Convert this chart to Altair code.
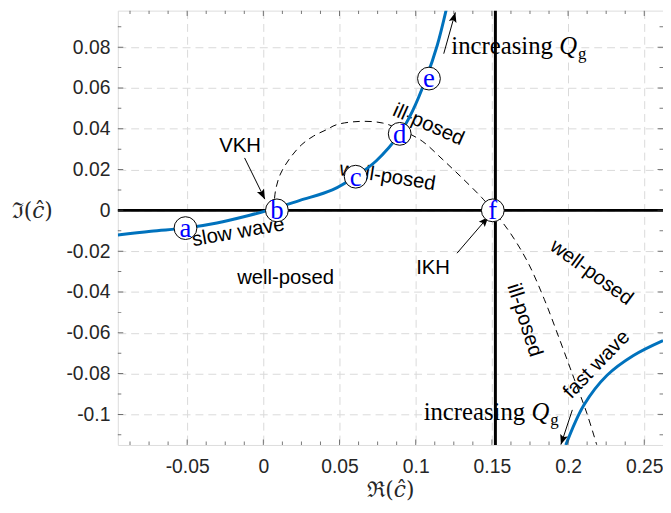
import math
import altair as alt
import pandas as pd

# ---------------- values ----------------
X_DOMAIN = [-0.0955, 0.2623]
Y_DOMAIN = [-0.115, 0.0979]
W, H = 551, 439

x_major = [-0.05, 0, 0.05, 0.1, 0.15, 0.2, 0.25]
x_minor = [-0.0875, -0.075, -0.0625, -0.0375, -0.025, -0.0125,
           0.0125, 0.025, 0.0375, 0.0625, 0.075, 0.0875,
           0.1125, 0.125, 0.1375, 0.1625, 0.175, 0.1875,
           0.2125, 0.225, 0.2375]
y_major = [-0.1, -0.08, -0.06, -0.04, -0.02, 0, 0.02, 0.04, 0.06, 0.08]
y_minor = [-0.11, -0.09, -0.07, -0.05, -0.03, -0.01, 0.01, 0.03, 0.05, 0.07, 0.09]

# slow wave (blue)
slow_x = [-0.0955, -0.0738, -0.0511, -0.0305, -0.0089, 0.003, 0.0236, 0.0453,
          0.0606, 0.074, 0.0892, 0.0978, 0.1068, 0.1141, 0.1206]
slow_y = [-0.0121, -0.0102, -0.0087, -0.0062, -0.0024, 0.0, 0.0048, 0.0100,
          0.0167, 0.0242, 0.0372, 0.0485, 0.0646, 0.0808, 0.1002]
# fast wave (blue)
fast_x = [0.1985, 0.2104, 0.2256, 0.2429, 0.2623]
fast_y = [-0.115, -0.0954, -0.0808, -0.0711, -0.0638]
# dashed boundary
dash_x = [0.0068, 0.0080, 0.0112, 0.0177, 0.0253, 0.0329, 0.0416, 0.0481, 0.0632,
          0.0784, 0.0909, 0.1043, 0.1173, 0.1303, 0.1433, 0.1506, 0.1617, 0.1734,
          0.1844, 0.1948, 0.2039, 0.2123, 0.2188]
dash_y = [0.0, 0.0097, 0.0178, 0.0258, 0.0323, 0.0364, 0.0396, 0.0420, 0.0436,
          0.0428, 0.0393, 0.0339, 0.0252, 0.0160, 0.0063, 0.0, -0.0107, -0.0252,
          -0.0436, -0.0640, -0.0824, -0.0994, -0.1149]

# thick black lines
h_line_y = [0.0]
v_line_x = [0.1523]

# labelled markers
mk_label = ["a", "b", "c", "d", "e", "f"]
mk_x = [-0.0511, 0.0089, 0.0606, 0.0895, 0.1087, 0.1506]
mk_y = [-0.0087, 0.0, 0.0165, 0.0375, 0.0646, 0.0]

# region annotations
ann_text = ["VKH", "slow wave", "well-posed", "well-posed", "ill-posed", "IKH",
            "well-posed", "ill-posed", "fast wave"]
ann_x = [-0.0153, -0.0164, 0.0146, 0.0815, 0.1084, 0.1114, 0.2153, 0.1714, 0.2188]
ann_y = [0.0315, -0.0107, -0.033, 0.0165, 0.0419, -0.0284, -0.0305, -0.0538, -0.0756]
ann_angle = [0, 350, 0, 9, 24, 0, 36, 72, 314]

# arrows (start -> tip)
arr_x1 = [-0.0123, 0.1271, 0.1184, 0.2028]
arr_y1 = [0.0257, -0.0210, 0.0768, -0.0978]
arr_x2 = [0.0010, 0.1476, 0.1260, 0.1953]
arr_y2 = [0.0055, -0.0032, 0.0970, -0.1148]

# "increasing Q_g" labels (left edge, baseline)
qg_x = [0.1234, 0.1052]
qg_y = [0.0766, -0.1028]

# ---------------- build ----------------
xs = alt.Scale(domain=X_DOMAIN, nice=False, zero=False)
ys = alt.Scale(domain=Y_DOMAIN, nice=False, zero=False)
TICK_COLOR = "#262626"
SANS = "Liberation Sans"
SERIF = "Liberation Serif"
LABEL_EXPR = "datum.value < 0 ? '-' + format(-datum.value, '~g') : format(datum.value, '~g')"

x_axis = alt.Axis(values=x_major, grid=True, gridDash=[8, 5], gridColor="#dadada",
                  ticks=False, domain=False, labelFont=SANS, labelFontSize=19.5,
                  labelColor=TICK_COLOR, labelPadding=13, labelExpr=LABEL_EXPR,
                  title="ℜ(𝑐̂)", titleFont="DejaVu Serif", titleFontSize=22,
                  titleFontWeight="normal", titleColor=TICK_COLOR,
                  titleX=275.5, titleY=45, titleAlign="center", titleBaseline="middle")
y_axis = alt.Axis(values=y_major, grid=True, gridDash=[8, 5], gridColor="#dadada",
                  ticks=False, domain=False, labelFont=SANS, labelFontSize=19.5,
                  labelColor=TICK_COLOR, labelPadding=8, labelExpr=LABEL_EXPR,
                  title="ℑ(𝑐̂)", titleFont="DejaVu Serif", titleFontSize=22,
                  titleFontWeight="normal", titleColor=TICK_COLOR, titleAngle=0,
                  titleX=-87, titleY=202, titleAlign="center", titleBaseline="middle")


def X(field="x"):
    return alt.X(f"{field}:Q", scale=xs, axis=x_axis)


def Y(field="y"):
    return alt.Y(f"{field}:Q", scale=ys, axis=y_axis)


slow_df = pd.DataFrame({"x": slow_x, "y": slow_y})
fast_df = pd.DataFrame({"x": fast_x, "y": fast_y})
dash_df = pd.DataFrame({"x": dash_x, "y": dash_y})

ann_df = pd.DataFrame({"x": ann_x, "y": ann_y, "t": ann_text, "a": ann_angle})
ann = alt.Chart(ann_df).mark_text(font=SANS, fontSize=20.5, color="black",
                                  align="center", baseline="middle").encode(
    x=X(), y=Y(), text="t:N", angle=alt.Angle("a:Q", scale=None))

hline = alt.Chart(pd.DataFrame({"y": h_line_y})).mark_rule(color="black", strokeWidth=3).encode(y=Y())
vline = alt.Chart(pd.DataFrame({"x": v_line_x})).mark_rule(color="black", strokeWidth=3).encode(x=X())

dash = alt.Chart(dash_df).mark_line(color="black", strokeWidth=1, strokeDash=[7, 5],
                                    interpolate="catmull-rom", clip=True).encode(x=X(), y=Y())
slow = alt.Chart(slow_df).mark_line(color="#0072BD", strokeWidth=3,
                                    interpolate="catmull-rom", clip=True).encode(x=X(), y=Y())
fast = alt.Chart(fast_df).mark_line(color="#0072BD", strokeWidth=3,
                                    interpolate="catmull-rom", clip=True).encode(x=X(), y=Y())


# arrows
def to_px(x, y):
    px = (x - X_DOMAIN[0]) / (X_DOMAIN[1] - X_DOMAIN[0]) * W
    py = H - (y - Y_DOMAIN[0]) / (Y_DOMAIN[1] - Y_DOMAIN[0]) * H
    return px, py


angles = []
for a, b, c, d in zip(arr_x1, arr_y1, arr_x2, arr_y2):
    p1 = to_px(a, b)
    p2 = to_px(c, d)
    ang = math.degrees(math.atan2(p2[0] - p1[0], -(p2[1] - p1[1]))) % 360
    angles.append(ang)

arr_df = pd.DataFrame({"x": arr_x1, "y": arr_y1, "x2": arr_x2, "y2": arr_y2, "ang": angles})
arr_lines = alt.Chart(arr_df).mark_rule(color="black", strokeWidth=1).encode(
    x=X(), y=Y(), x2="x2:Q", y2="y2:Q")
arr_heads = alt.Chart(arr_df).mark_point(
    shape="M0,0L0.8,2L0,1.6L-0.8,2Z", filled=True, color="black", opacity=1, size=100).encode(
    x=X("x2"), y=Y("y2"), angle=alt.Angle("ang:Q", scale=None))

qg_df = pd.DataFrame({"x": qg_x, "y": qg_y})
qg_text = alt.Chart(qg_df).mark_text(text="increasing", font=SERIF, fontSize=25, color="black",
                                     align="left", baseline="alphabetic").encode(x=X(), y=Y())
qg_Q = alt.Chart(qg_df).mark_text(text="Q", font=SERIF, fontStyle="italic", fontSize=25,
                                  color="black", align="left", baseline="alphabetic",
                                  dx=109).encode(x=X(), y=Y())
qg_g = alt.Chart(qg_df).mark_text(text="g", font=SERIF, fontSize=17, color="black",
                                  align="left", baseline="alphabetic", dx=128, dy=5).encode(x=X(), y=Y())

mk_df = pd.DataFrame({"x": mk_x, "y": mk_y, "t": mk_label})
mk_circ = alt.Chart(mk_df).mark_point(shape="circle", filled=True, fill="white", stroke="black",
                                      strokeWidth=1, size=530, opacity=1).encode(x=X(), y=Y())
mk_txt = alt.Chart(mk_df).mark_text(font=SERIF, fontSize=27, color="#0000FF",
                                    align="center", baseline="middle", dy=1).encode(
    x=X(), y=Y(), text="t:N")

# inward ticks on all four sides
bt_rows = ([{"x": v, "y": Y_DOMAIN[0]} for v in x_major] + [{"x": v, "y": Y_DOMAIN[1]} for v in x_major])
bt_minor_rows = ([{"x": v, "y": Y_DOMAIN[0]} for v in x_minor] + [{"x": v, "y": Y_DOMAIN[1]} for v in x_minor])
lr_rows = ([{"x": X_DOMAIN[0], "y": v} for v in y_major] + [{"x": X_DOMAIN[1], "y": v} for v in y_major])
lr_minor_rows = ([{"x": X_DOMAIN[0], "y": v} for v in y_minor] + [{"x": X_DOMAIN[1], "y": v} for v in y_minor])

tk1 = alt.Chart(pd.DataFrame(bt_rows)).mark_tick(orient="vertical", size=11, thickness=1,
                                                  color="#404040", clip=True).encode(x=X(), y=Y())
tk2 = alt.Chart(pd.DataFrame(bt_minor_rows)).mark_tick(orient="vertical", size=7, thickness=1,
                                                        color="#404040", clip=True).encode(x=X(), y=Y())
tk3 = alt.Chart(pd.DataFrame(lr_rows)).mark_tick(orient="horizontal", size=11, thickness=1,
                                                  color="#404040", clip=True).encode(x=X(), y=Y())
tk4 = alt.Chart(pd.DataFrame(lr_minor_rows)).mark_tick(orient="horizontal", size=7, thickness=1,
                                                        color="#404040", clip=True).encode(x=X(), y=Y())

chart = alt.layer(ann, hline, vline, dash, slow, fast, arr_lines, arr_heads,
                  qg_text, qg_Q, qg_g, mk_circ, mk_txt, tk1, tk2, tk3, tk4).properties(
    width=W, height=H,
    padding={"left": 111, "top": 0, "right": 0, "bottom": 58},
    autosize=alt.AutoSizeParams(type="none"),
).configure_view(stroke="#404040", strokeWidth=1).configure(background="white")

chart.save("out.html", embed_options={"renderer": "svg", "actions": False})
